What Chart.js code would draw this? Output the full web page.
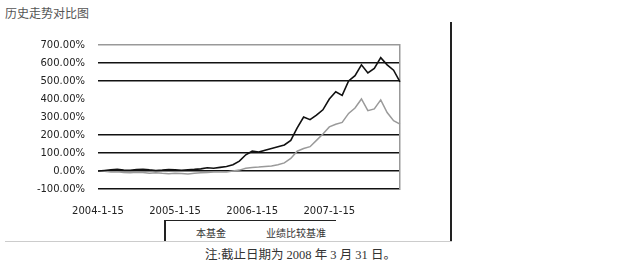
<!DOCTYPE html>
<html>
<head>
<meta charset="utf-8">
<script src="https://cdn.jsdelivr.net/npm/chart.js@4.4.1/dist/chart.umd.min.js"></script>
<style>
  body { margin: 0; width: 630px; height: 267px; background: #fff; position: relative; overflow: hidden; font-family: "Noto Sans CJK SC", sans-serif; }
  #title { position: absolute; left: 5px; top: 4px; font-size: 12px; color: #555; }
  #wrap { position: absolute; left: 0; top: 26px; width: 440px; height: 194px; }
  #vline { position: absolute; left: 450px; top: 22px; width: 2px; height: 220px; background: #222; }
  #hline { position: absolute; left: 5px; top: 241px; width: 447px; height: 1px; background: #ccc; }
  #legend { position: absolute; left: 164px; top: 220px; width: 170px; height: 20px; border-top: 1px solid #222; border-left: 2px solid #222; font-size: 10px; color: #333; }
  #legend span { position: absolute; top: 4px; }
  #note { position: absolute; left: 205px; top: 244px; font-size: 12.5px; color: #333; font-family: "Liberation Serif", "Noto Sans CJK SC", serif; }
</style>
</head>
<body>
<div id="title">历史走势对比图</div>
<div id="wrap"><canvas id="graph"></canvas></div>
<div id="vline"></div>
<div id="hline"></div>
<div id="legend"><span id="leg1" style="left:30px"></span><span id="leg2" style="left:100px"></span></div>
<div id="note">注:截止日期为 2008 年 3 月 31 日。</div>
<script>
// monthly points, 2004-01 .. 2007-12
var dateLabels = [];
for (var y = 2004; y <= 2007; y++) {
  for (var m = 1; m <= 12; m++) dateLabels.push(y + '-' + m + '-15');
}
var seriesNames = ['本基金', '业绩比较基准'];

var fundData = [0, 3, 6, 9, 5, 4, 8, 10, 6, 3, 5, 8,
                6, 4, 7, 9, 12, 18, 15, 20, 25, 35, 55, 90,
                110, 105, 115, 125, 135, 145, 170, 240, 300, 285, 310, 340,
                400, 440, 420, 500, 530, 590, 545, 570, 630, 590, 560, 495];

var benchData = [0, -2, -5, -4, -8, -10, -7, -9, -12, -10, -13, -15,
                 -12, -14, -16, -13, -10, -8, -6, -4, -5, 0, 5, 15,
                 20, 22, 25, 28, 35, 45, 70, 110, 125, 135, 170, 205,
                 245, 260, 270, 320, 350, 400, 335, 345, 395, 325, 280, 260];

var yTicks = [-100, 0, 100, 200, 300, 400, 500, 600, 700];

document.getElementById('leg1').textContent = seriesNames[0];
document.getElementById('leg2').textContent = seriesNames[1];

const data = {
  labels: dateLabels,
  datasets: [
    {
      label: seriesNames[0],
      data: fundData,
      borderColor: '#111',
      borderWidth: 1.6,
      pointRadius: 0,
      tension: 0
    },
    {
      label: seriesNames[1],
      data: benchData,
      borderColor: '#9a9a9a',
      borderWidth: 1.5,
      pointRadius: 0,
      tension: 0
    }
  ]
};

const config = {
  type: 'line',
  data: data,
  options: {
    responsive: true,
    maintainAspectRatio: false,
    animation: false,
    layout: { padding: { top: 7, right: 40, left: 0, bottom: 0 } },
    plugins: { legend: { display: false }, tooltip: { enabled: false } },
    scales: {
      x: {
        grid: { display: false },
        border: { display: false },
        ticks: {
          autoSkip: false,
          maxRotation: 0,
          color: '#222',
          font: { family: 'DejaVu Sans', size: 10 },
          padding: 8,
          callback: function (v, i) { return i % 12 === 0 ? dateLabels[i] : ''; }
        },
        afterFit: function (s) { s.height = 31; }
      },
      y: {
        min: -100,
        max: 700,
        afterBuildTicks: function (s) { s.ticks = yTicks.map(function (v) { return { value: v }; }); },
        grid: {
          color: function (c) {
            var v = c.tick && c.tick.value;
            if (v === 700) return '#999';
            if (v === 300 || v === 400) return 'rgba(0,0,0,0)';
            return '#111';
          },
          lineWidth: 1.5,
          drawTicks: false
        },
        border: { display: false },
        ticks: {
          color: '#222',
          font: { family: 'DejaVu Sans', size: 10 },
          padding: 13,
          callback: function (v) { return v.toFixed(2) + '%'; }
        },
        afterFit: function (s) { s.width = 98; }
      },
      y2: {
        position: 'right',
        min: -100,
        max: 700,
        grid: { drawOnChartArea: false, drawTicks: false },
        border: { display: true, color: '#999', width: 1.5 },
        ticks: { display: false },
        afterFit: function (s) { s.width = 0; }
      }
    }
  }
};

var myChart = new Chart(document.getElementById('graph'), config);
</script>
</body>
</html>
